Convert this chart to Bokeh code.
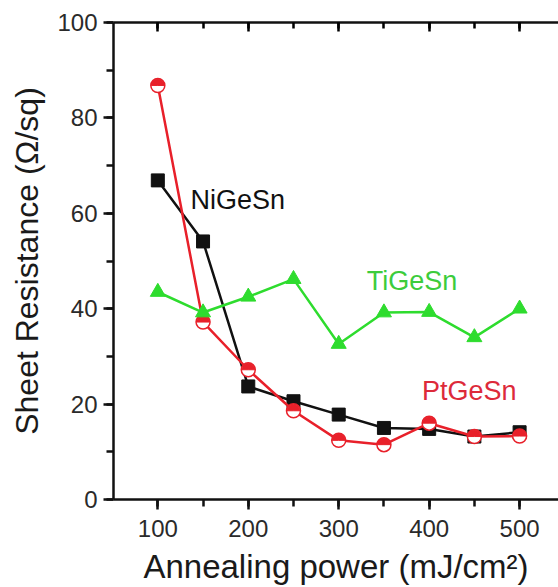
import numpy as np
from bokeh.plotting import figure
from bokeh.models import Range1d, LinearAxis, SingleIntervalTicker, Label
from bokeh.embed import file_html
from bokeh.resources import INLINE

# ---- data ----
power = [100, 150, 200, 250, 300, 350, 400, 450, 500]
ni_gesn = [66.9, 54.1, 23.7, 20.6, 17.8, 15.0, 14.8, 13.2, 14.1]
pt_gesn = [86.8, 37.2, 27.2, 18.6, 12.4, 11.5, 16.0, 13.2, 13.3]
ti_gesn = [43.5, 39.2, 42.5, 46.2, 32.6, 39.2, 39.3, 34.0, 40.0]

labels = ["NiGeSn", "TiGeSn", "PtGeSn"]
label_x = [136.0, 331, 392]
label_y = [62.7, 45.9, 22.8]

BLACK = "#111111"
RED = "#e8202a"
GREEN = "#2edc2e"
FONT = "Liberation Sans"

p = figure(width=558, height=587, output_backend="svg", toolbar_location=None,
           x_range=Range1d(51, 543), y_range=Range1d(0, 100),
           min_border_left=113, min_border_right=0, min_border_top=22, min_border_bottom=88)
p.outline_line_color = None
p.xgrid.visible = False
p.ygrid.visible = False
p.background_fill_color = "white"
p.border_fill_color = "white"

# axes
xa = p.xaxis[0]
xa.ticker = SingleIntervalTicker(interval=100, num_minor_ticks=2)
ya = p.yaxis[0]
ya.ticker = SingleIntervalTicker(interval=20, num_minor_ticks=2)
for ax in (xa, ya):
    ax.axis_line_width = 2.5
    ax.axis_line_color = BLACK
    ax.major_tick_line_width = 2.5
    ax.minor_tick_line_width = 2.5
    ax.major_tick_line_color = BLACK
    ax.minor_tick_line_color = BLACK
    ax.major_tick_in = 0
    ax.major_tick_out = 10
    ax.minor_tick_in = 0
    ax.minor_tick_out = 7
    ax.major_label_text_font = FONT
    ax.major_label_text_font_size = "24px"
    ax.major_label_text_color = "#2a2a2a"
    ax.axis_label_text_font = FONT
    ax.axis_label_text_font_style = "normal"
    ax.axis_label_text_color = "#1a1a1a"
xa.axis_label = "Annealing power (mJ/cm²)"
ya.axis_label = "Sheet Resistance (Ω/sq)"
xa.axis_label_text_font_size = "33px"
ya.axis_label_text_font_size = "32px"
xa.major_label_standoff = 10
xa.axis_label_standoff = 8
ya.major_label_standoff = 6
ya.axis_label_standoff = 9

top = LinearAxis(ticker=SingleIntervalTicker(interval=100, num_minor_ticks=2))
top.axis_line_width = 2.5
top.axis_line_color = BLACK
top.major_tick_line_width = 2.5
top.minor_tick_line_width = 2.5
top.major_tick_in = 9
top.major_tick_out = 0
top.minor_tick_in = 6
top.minor_tick_out = 0
top.major_label_text_font_size = "0px"
top.major_label_standoff = 0
top.major_label_text_alpha = 0
p.add_layout(top, "above")

# NiGeSn
p.line(power, ni_gesn, line_color=BLACK, line_width=2.5)
p.scatter(power, ni_gesn, marker="square", size=13, fill_color=BLACK, line_color=BLACK)

# PtGeSn
p.line(power, pt_gesn, line_color=RED, line_width=2.5)
p.scatter(power, pt_gesn, marker="circle", size=14, fill_color="white", line_color=RED, line_width=1.5)
p.wedge(power, pt_gesn, radius=6.5, radius_units="screen", start_angle=0, end_angle=np.pi,
        fill_color=RED, line_color=RED, line_width=1)

# TiGeSn
p.line(power, ti_gesn, line_color=GREEN, line_width=2.5)
p.scatter(power, ti_gesn, marker="triangle", size=15, fill_color=GREEN, line_color=GREEN, line_width=1)

colors = [BLACK, "#3ccc3c", "#dd2a3a"]
for t, x, y, c in zip(labels, label_x, label_y, colors):
    p.add_layout(Label(x=x, y=y, text=t, text_color=c, text_font=FONT,
                       text_font_size="27px", text_baseline="alphabetic", text_align="left"))

open("out.html", "w").write(file_html(p, INLINE))
